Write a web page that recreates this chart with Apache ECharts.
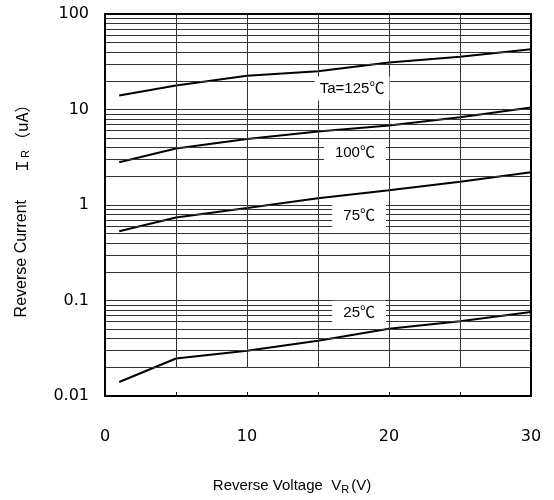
<!DOCTYPE html>
<html>
<head>
<meta charset="utf-8">
<script src="https://cdn.jsdelivr.net/npm/echarts@6/dist/echarts.min.js"></script>
<style>html,body{margin:0;padding:0;background:#fff}#c{width:554px;height:500px}</style>
</head>
<body>
<div id="c"></div>
<script>
// ---- data ----
const voltages = [1, 5, 10, 15, 20, 25, 30];
const ir125 = [14, 17.8, 22.6, 25.2, 31, 35.6, 42.7];
const ir100 = [2.8, 3.9, 4.9, 5.9, 6.8, 8.3, 10.5];
const ir75  = [0.53, 0.74, 0.93, 1.18, 1.43, 1.75, 2.2];
const ir25  = [0.014, 0.0247, 0.0298, 0.0378, 0.0507, 0.0606, 0.0757];
const tempLabels = ['Ta=125℃', '100℃', '75℃', '25℃'];
const xTicks = [0, 10, 20, 30];
const yTicks = [0.01, 0.1, 1, 10, 100];

// ---- layout / style ----
const labelAt = [[17.4, 16.6], [17.6, 3.5], [17.9, 0.77], [17.9, 0.0744]];
const labelBox = [[75, 24], [62, 22], [54, 24], [54, 24]];
const FONT = "'Liberation Sans', 'Noto Sans CJK JP', sans-serif";
const CJK = "'Noto Sans CJK JP', sans-serif";
const NUMFONT = "'DejaVu Sans', sans-serif";
const GRID = '#333';

const minorLines = [];
[0.01, 0.1, 1, 10].forEach(d => {
  for (let k = 2; k <= 9; k++) minorLines.push({ yAxis: +(k * d).toPrecision(3) });
});
[0.1, 1, 10].forEach(d => minorLines.push({ yAxis: d }));
const vLines = [];
[5, 10, 15, 20, 25].forEach(v => vLines.push([{ coord: [v, 0.02] }, { coord: [v, 100] }]));

const curves = [ir125, ir100, ir75, ir25].map((arr, i) => ({
  type: 'line', z: 3, symbol: 'none', silent: true,
  data: voltages.map((v, j) => [v, arr[j]]),
  lineStyle: { color: '#000', width: 2 }
}));

const xRich = {
  a: { fontSize: 15, color: '#000', fontFamily: FONT },
  s: { fontSize: 11, color: '#000', fontFamily: FONT, padding: [8, 2, 0, 0] }
};
const yRich = {
  a: { fontSize: 16, color: '#000', fontFamily: FONT },
  i: { fontSize: 16, color: '#000', fontFamily: CJK, padding: [0, 0, 0, 26] },
  s: { fontSize: 11, color: '#000', fontFamily: FONT, padding: [8, 2, 0, 0] },
  p: { fontSize: 16, color: '#000', fontFamily: CJK }
};

const chart = echarts.init(document.getElementById('c'));
chart.setOption({
  animation: false,
  backgroundColor: '#fff',
  textStyle: { fontFamily: FONT },
  grid: { left: 105, right: 23, top: 14, bottom: 97, show: true, borderColor: '#000', borderWidth: 2, backgroundColor: 'transparent', z: 10 },
  xAxis: {
    type: 'value', min: 0, max: 30, interval: 5,
    axisLine: { show: false },
    axisTick: { show: true, inside: true, length: 4, lineStyle: { color: '#000', width: 1 } },
    splitLine: { show: false },
    axisLabel: { fontSize: 16, color: '#000', margin: 33, fontFamily: NUMFONT,
      formatter: v => xTicks.includes(v) ? String(v) : '' },
    name: '{a|Reverse Voltage  V}{s|R}{a|(V)}',
    nameLocation: 'middle', nameGap: 80,
    nameTextStyle: { padding: [0, 52, 0, 0], rich: xRich }
  },
  yAxis: {
    type: 'log', logBase: 10, min: 0.01, max: 100,
    axisLine: { show: false }, axisTick: { show: false },
    splitLine: { show: false },
    axisLabel: { fontSize: 16, color: '#000', margin: 16, fontFamily: NUMFONT,
      formatter: v => { const t = yTicks.find(y => Math.abs(Math.log10(y) - Math.log10(v)) < 1e-6); return t === undefined ? '' : String(t); } },
    name: '{a|Reverse Current}{i|Ｉ}{s|R}{p|（uA）}',
    nameLocation: 'middle', nameGap: 74, nameRotate: 90,
    nameTextStyle: { padding: [0, 4, 0, 0], rich: yRich }
  },
  series: [
    {
      type: 'line', z: 1, data: [], silent: true,
      markLine: {
        silent: true, symbol: ['none', 'none'], animation: false,
        label: { show: false },
        lineStyle: { color: GRID, width: 1, type: 'solid' },
        data: minorLines.concat(vLines)
      }
    },
    ...curves,
    {
      type: 'line', z: 5, data: [], silent: true,
      markPoint: {
        silent: true, animation: false,
        data: tempLabels.map((t, i) => ({
          coord: labelAt[i], symbol: 'rect', symbolSize: labelBox[i],
          itemStyle: { color: '#fff' },
          label: { show: true, position: 'inside', formatter: t, color: '#000', fontSize: 15, fontFamily: FONT }
        }))
      }
    }
  ]
});
</script>
</body>
</html>
